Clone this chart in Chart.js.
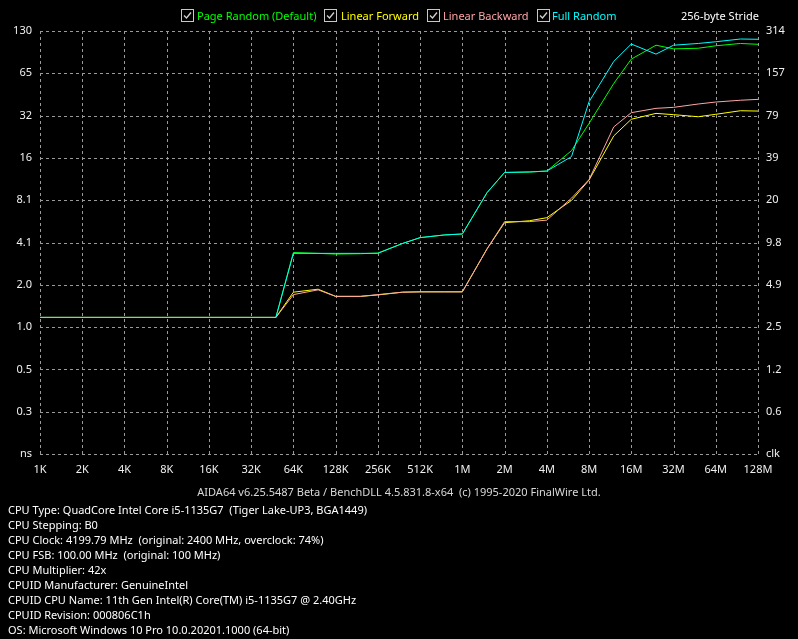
<!DOCTYPE html>
<html>
<head>
<meta charset="utf-8">
<script src="https://cdn.jsdelivr.net/npm/chart.js@4/dist/chart.umd.min.js"></script>
<style>
  html, body { margin:0; padding:0; background:#000; width:798px; height:639px; overflow:hidden; }
  #wrap { position:relative; width:798px; height:639px; }
  canvas { position:absolute; left:0; top:0; }
  .t { position:absolute; white-space:pre; font-family:"Noto Sans", sans-serif; font-size:11px; line-height:15px; }
  .cb { position:absolute; width:11px; height:11px; border:1px solid #c8c8c8; background:#000; }
  .cb svg { position:absolute; left:0; top:0; }
</style>
</head>
<body>
<div id="wrap">
  <canvas id="c" width="798" height="639"></canvas>
  <div id="legend"></div>
  <div class="t" style="left:681px; top:8px; color:#ffffff;">256-byte Stride</div>
  <div class="t" id="footer" style="left:0; width:798px; text-align:center; top:484px; color:#d8d8d8;">AIDA64 v6.25.5487 Beta / BenchDLL 4.5.831.8-x64  (c) 1995-2020 FinalWire Ltd.</div>
  <div id="info"></div>
</div>
<script>
// ---- data ----
const sizesKB = [1,2,4,8,16,32,48,64,96,128,192,256,384,512,768,1024,1536,2048,3072,4096,6144,8192,12288,16384,24576,32768,49152,65536,98304,131072];
const pageRandom   = [1.19,1.19,1.19,1.19,1.19,1.19,1.19,3.45,3.40,3.36,3.38,3.42,4.0,4.4,4.6,4.67,9.2,12.8,12.9,13.1,18.3,28.6,55,82,103,97,98,102,106,104.5];
const linearForward= [1.19,1.19,1.19,1.19,1.19,1.19,1.19,1.80,1.89,1.68,1.68,1.72,1.80,1.81,1.81,1.81,3.66,5.62,5.8,6.1,8.1,11.3,23.3,30.6,33.7,33.0,31.9,33.2,35.2,35.0];
const linearBackward=[1.19,1.19,1.19,1.19,1.19,1.19,1.19,1.73,1.87,1.68,1.68,1.73,1.80,1.81,1.81,1.81,3.66,5.72,5.72,5.86,8.4,11.4,27,34.1,36.6,37.2,39.3,40.6,41.8,42.4];
const fullRandom   = [1.19,1.19,1.19,1.19,1.19,1.19,1.19,3.40,3.40,3.40,3.40,3.40,4.0,4.4,4.6,4.67,9.2,12.8,12.9,13.1,16.6,40.8,79,105,89,103,106,109,114,113.5];

const xTickKB   = [1,2,4,8,16,32,64,128,256,512,1024,2048,4096,8192,16384,32768,65536,131072];
const xLabels   = ["1K","2K","4K","8K","16K","32K","64K","128K","256K","512K","1M","2M","4M","8M","16M","32M","64M","128M"];
const nsLabels  = ["130","65","32","16","8.1","4.1","2.0","1.0","0.5","0.3","ns"];   // top -> bottom
const clkLabels = ["314","157","79","39","20","9.8","4.9","2.5","1.2","0.6","clk"]; // top -> bottom
const yTop = 130;
const yTickValues = nsLabels.map((_, i) => yTop / Math.pow(2, i)).reverse(); // bottom -> top

const seriesNames  = ["Page Random (Default)","Linear Forward","Linear Backward","Full Random"];
const seriesColors = ["#00ff00","#ffff00","#ffa4a4","#00ffff"];
const seriesData   = [pageRandom, linearForward, linearBackward, fullRandom];
const infoLines = [
  "CPU Type: QuadCore Intel Core i5-1135G7  (Tiger Lake-UP3, BGA1449)",
  "CPU Stepping: B0",
  "CPU Clock: 4199.79 MHz  (original: 2400 MHz, overclock: 74%)",
  "CPU FSB: 100.00 MHz  (original: 100 MHz)",
  "CPU Multiplier: 42x",
  "CPUID Manufacturer: GenuineIntel",
  "CPUID CPU Name: 11th Gen Intel(R) Core(TM) i5-1135G7 @ 2.40GHz",
  "CPUID Revision: 000806C1h",
  "OS: Microsoft Windows 10 Pro 10.0.20201.1000 (64-bit)"
];

// ---- legend (HTML) ----
const legendPos = [[181,197],[324,341],[427,443],[537,552]];
const legend = document.getElementById('legend');
seriesNames.forEach((n, i) => {
  const cb = document.createElement('div');
  cb.className = 'cb';
  cb.style.left = legendPos[i][0] + 'px';
  cb.style.top = '9px';
  cb.innerHTML = '<svg width="11" height="11"><polyline points="2,5.5 4.5,8 9,2.5" fill="none" stroke="#d0d0d0" stroke-width="1.3"/></svg>';
  legend.appendChild(cb);
  const t = document.createElement('div');
  t.className = 't';
  t.style.left = legendPos[i][1] + 'px';
  t.style.top = '8px';
  t.style.color = seriesColors[i];
  t.textContent = n;
  legend.appendChild(t);
});
const info = document.getElementById('info');
infoLines.forEach((s, i) => {
  const d = document.createElement('div');
  d.className = 't';
  d.style.left = '8px';
  d.style.top = (502 + i * 15) + 'px';
  d.style.color = '#ffffff';
  d.textContent = s;
  info.appendChild(d);
});

// ---- chart ----
const gridColor = '#9a9a9a';
const tickFont = { family: '"Noto Sans", sans-serif', size: 11 };
const datasets = seriesNames.map((n, i) => ({
  label: n,
  data: sizesKB.map((s, j) => ({ x: s, y: seriesData[i][j] })),
  borderColor: seriesColors[i],
  backgroundColor: seriesColors[i],
  borderWidth: 1,
  pointRadius: 0,
  tension: 0,
  order: 4 - i,
  yAxisID: 'y'
}));

// dashed grid drawn from the scales' own ticks
const dashedGrid = {
  id: 'dashedGrid',
  beforeDatasetsDraw(chart) {
    const { ctx, chartArea: a, scales } = chart;
    ctx.save();
    ctx.strokeStyle = gridColor;
    ctx.lineWidth = 1;
    ctx.setLineDash([3, 3]);
    scales.x.ticks.forEach(t => {
      const px = Math.round(scales.x.getPixelForValue(t.value)) + 0.5;
      ctx.beginPath(); ctx.moveTo(px, Math.round(a.top)); ctx.lineTo(px, Math.round(a.bottom) + 1); ctx.stroke();
    });
    scales.y.ticks.forEach(t => {
      const py = Math.round(scales.y.getPixelForValue(t.value)) + 0.5;
      ctx.beginPath(); ctx.moveTo(Math.round(a.left), py); ctx.lineTo(Math.round(a.right) + 1, py); ctx.stroke();
    });
    ctx.restore();
  }
};

new Chart(document.getElementById('c'), {
  type: 'line',
  data: { datasets },
  plugins: [dashedGrid],
  options: {
    responsive: false,
    devicePixelRatio: 1,
    animation: false,
    layout: { padding: { top: 31, left: 0, right: 0, bottom: 0 } },
    plugins: { legend: { display: false }, tooltip: { enabled: false } },
    scales: {
      x: {
        type: 'logarithmic',
        min: xTickKB[0], max: xTickKB[xTickKB.length - 1],
        afterBuildTicks: (s) => { s.ticks = xTickKB.map(v => ({ value: v })); },
        afterFit: (s) => { s.height = 185; },
        ticks: {
          autoSkip: false, maxRotation: 0, padding: 9, color: '#f0f0f0', font: tickFont,
          callback: (v, i) => xLabels[i]
        },
        grid: { display: false, drawTicks: false },
        border: { display: false }
      },
      y: {
        type: 'logarithmic', position: 'left',
        min: yTickValues[0], max: yTickValues[yTickValues.length - 1],
        afterBuildTicks: (s) => { s.ticks = yTickValues.map(v => ({ value: v })); },
        afterFit: (s) => { s.width = 40; },
        ticks: {
          autoSkip: false, padding: 8, color: '#f0f0f0', font: tickFont,
          callback: (v, i) => nsLabels[nsLabels.length - 1 - i]
        },
        grid: { display: false, drawTicks: false },
        border: { display: false }
      },
      y2: {
        type: 'logarithmic', position: 'right',
        min: yTickValues[0], max: yTickValues[yTickValues.length - 1],
        afterBuildTicks: (s) => { s.ticks = yTickValues.map(v => ({ value: v })); },
        afterFit: (s) => { s.width = 40; },
        ticks: {
          autoSkip: false, padding: 8, color: '#f0f0f0', font: tickFont,
          callback: (v, i) => clkLabels[clkLabels.length - 1 - i]
        },
        grid: { display: false, drawTicks: false },
        border: { display: false }
      }
    }
  }
});
</script>
</body>
</html>
